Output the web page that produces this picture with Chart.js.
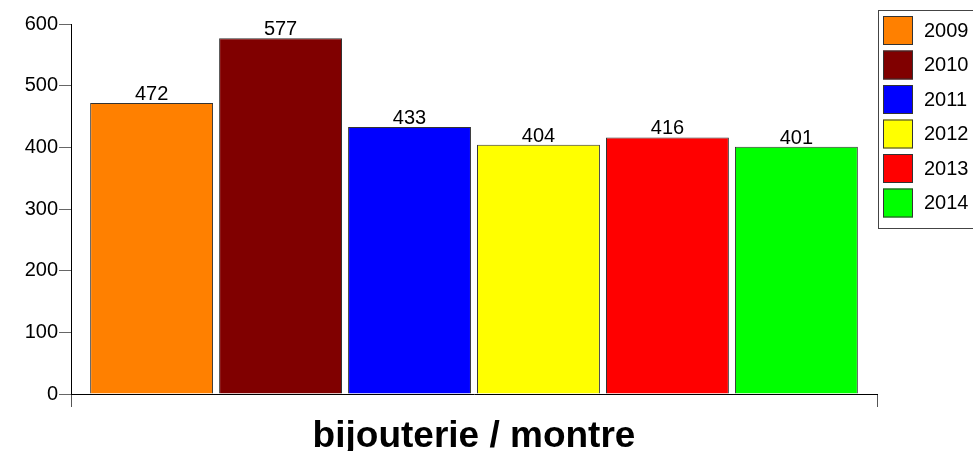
<!DOCTYPE html>
<html>
<head>
<meta charset="utf-8">
<script src="https://cdn.jsdelivr.net/npm/chart.js@4/dist/chart.umd.min.js"></script>
<style>
html,body{margin:0;padding:0;background:#fff;}
#wrap{width:973px;height:451px;position:relative;}
</style>
</head>
<body>
<div id="wrap"><canvas id="c" width="973" height="451"></canvas></div>
<script>
const categories = ['bijouterie / montre'];
const years = ['2009', '2010', '2011', '2012', '2013', '2014'];
const values = [472, 577, 433, 404, 416, 401];
const colors = ['#FF8000', '#800000', '#0000FF', '#FFFF00', '#FF0000', '#00FF00'];
const yTicks = [0, 100, 200, 300, 400, 500, 600];

const FONT = "'Liberation Sans', Arial, sans-serif";

const valueLabels = {
  id: 'valueLabels',
  afterDatasetsDraw(chart) {
    const ctx = chart.ctx;
    ctx.save();
    ctx.font = '20px ' + FONT;
    ctx.fillStyle = '#000';
    ctx.textAlign = 'center';
    ctx.textBaseline = 'alphabetic';
    chart.data.datasets.forEach((ds, i) => {
      const meta = chart.getDatasetMeta(i);
      meta.data.forEach((el, j) => {
        ctx.fillText(String(ds.data[j]), el.x, el.y - 3);
      });
    });
    ctx.restore();
  }
};

const boxLegend = {
  id: 'boxLegend',
  afterDraw(chart) {
    const ctx = chart.ctx;
    const left = chart.chartArea.right + 1;
    const top = 10;
    const step = 34.5;
    const n = chart.data.datasets.length;
    ctx.save();
    ctx.strokeStyle = '#444';
    ctx.lineWidth = 1;
    ctx.strokeRect(left + 0.5, top + 0.5, 200, n * step + 11);
    ctx.font = '20px ' + FONT;
    ctx.textBaseline = 'middle';
    ctx.textAlign = 'left';
    chart.data.datasets.forEach((ds, i) => {
      const y = top + 6 + i * step;
      ctx.fillStyle = ds.backgroundColor;
      ctx.fillRect(left + 5, y, 30, 29);
      ctx.strokeStyle = '#333';
      ctx.strokeRect(left + 5.5, y + 0.5, 29, 28);
      ctx.fillStyle = '#000';
      ctx.fillText(ds.label, left + 46, y + 15);
    });
    ctx.restore();
  }
};

new Chart(document.getElementById('c'), {
  type: 'bar',
  data: {
    labels: categories,
    datasets: years.map((y, i) => ({
      label: y,
      data: [values[i]],
      backgroundColor: colors[i],
      borderColor: '#333',
      borderWidth: 1,
      categoryPercentage: 0.96,
      barPercentage: 0.953
    }))
  },
  options: {
    responsive: false,
    devicePixelRatio: 1,
    animation: false,
    layout: { padding: { top: 24, right: 96, left: 0, bottom: 0 } },
    plugins: { legend: { display: false }, tooltip: { enabled: false } },
    scales: {
      x: {
        offset: true,
        grid: { offset: true, drawOnChartArea: false, drawTicks: true, tickLength: 13, color: '#555' },
        border: { color: '#000', width: 1 },
        ticks: { color: '#000', padding: 8, font: { family: FONT, size: 37, weight: 'bold' }, maxRotation: 0 },
        afterFit(s) { s.height = 57; }
      },
      y: {
        min: 0,
        max: 600,
        afterBuildTicks(s) { s.ticks = yTicks.map(v => ({ value: v })); },
        grid: { drawOnChartArea: false, drawTicks: true, tickLength: 12, color: '#666' },
        border: { color: '#000', width: 1 },
        ticks: { color: '#000', padding: 1, font: { family: FONT, size: 20 } },
        afterFit(s) { s.width = 71; }
      }
    }
  },
  plugins: [valueLabels, boxLegend]
});
</script>
</body>
</html>
